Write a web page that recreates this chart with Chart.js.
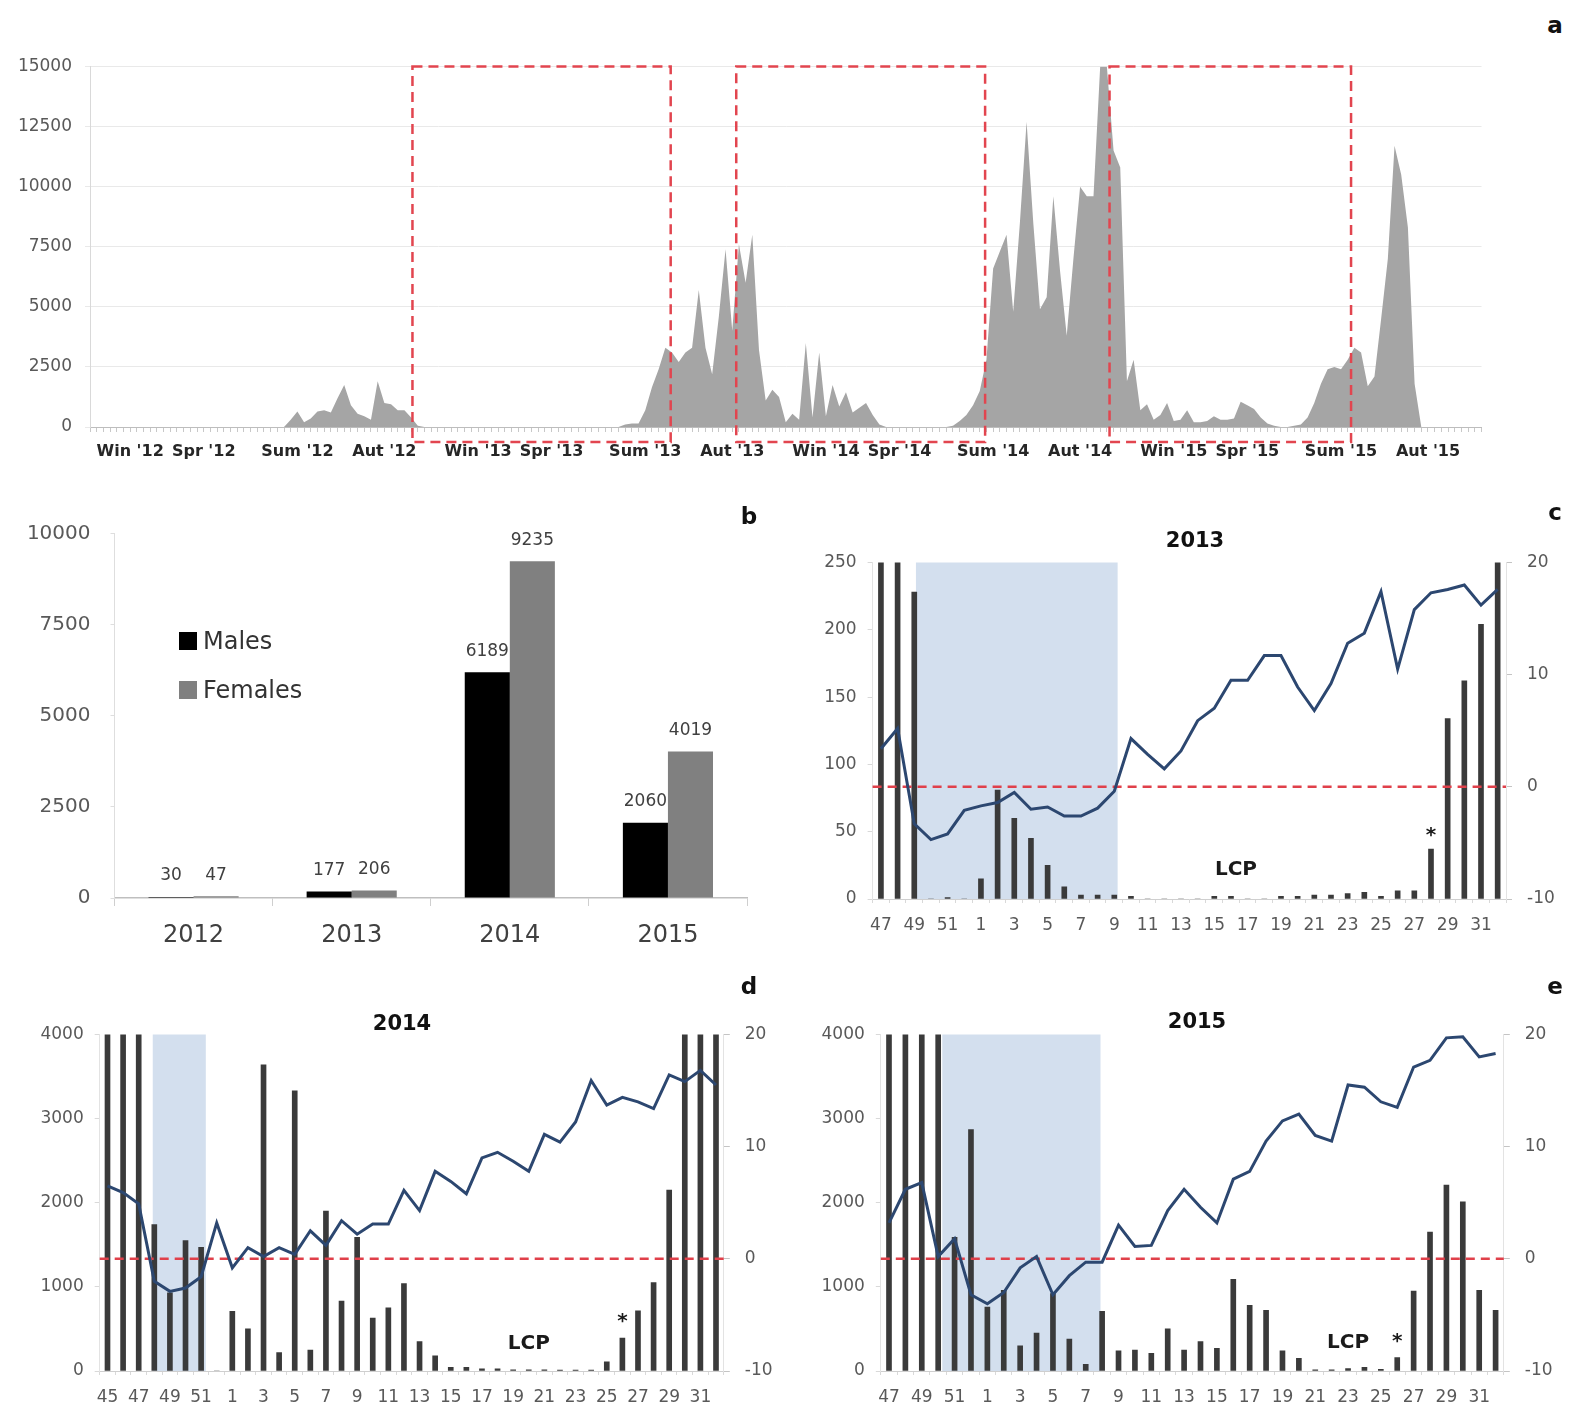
<!DOCTYPE html>
<html>
<head>
<meta charset="utf-8">
<script src="https://cdn.jsdelivr.net/npm/chart.js@4.4.1/dist/chart.umd.min.js"></script>
<style>
	body { margin: 0; background: #fff; }
	#page { position: relative; width: 1575px; height: 1421px; overflow: hidden; font-family: 'DejaVu Sans', sans-serif; }
	canvas { position: absolute; }
	.lbl { position: absolute; transform: translate(-50%, -50%); white-space: nowrap; color: #111; }
	.letter { font-weight: bold; font-size: 23px; }
	.title { font-weight: bold; font-size: 21px; }
	.legend { position: absolute; font-size: 24px; color: #333; transform: translateY(-50%); }
	.swatch { position: absolute; width: 18px; height: 18px; }
</style>
</head>
<body>
<div id="page">
	<canvas id="chartA" width="1510" height="440" style="left:0px; top:40px;"></canvas>
	<canvas id="chartB" width="780" height="480" style="left:0px; top:490px;"></canvas>
	<canvas id="chartC" width="795" height="470" style="left:780px; top:490px;"></canvas>
	<canvas id="chartD" width="780" height="451" style="left:0px; top:970px;"></canvas>
	<canvas id="chartE" width="795" height="451" style="left:780px; top:970px;"></canvas>

	<div class="lbl letter" style="left:1555px; top:25px;">a</div>
	<div class="lbl letter" style="left:749px; top:516px;">b</div>
	<div class="lbl letter" style="left:1555px; top:512px;">c</div>
	<div class="lbl letter" style="left:749px; top:986px;">d</div>
	<div class="lbl letter" style="left:1555px; top:986px;">e</div>

	<div class="lbl title" style="left:1195px; top:540px;">2013</div>
	<div class="lbl title" style="left:402px; top:1023px;">2014</div>
	<div class="lbl title" style="left:1197px; top:1021px;">2015</div>

	<div class="swatch" style="left:179px; top:632px; background:#000;"></div>
	<div class="legend" style="left:203px; top:641px;">Males</div>
	<div class="swatch" style="left:179px; top:681px; background:#808080;"></div>
	<div class="legend" style="left:203px; top:690px;">Females</div>
</div>
<script>
// ---- panel a : weekly catches, one value per week ----
var weeklyCatch = [
	0, 0, 0, 0, 0, 0, 0, 0, 0, 0,
	0, 0, 0, 0, 0, 0, 0, 0, 0, 0,
	0, 0, 0, 0, 0, 0, 0, 0, 0, 0,
	300, 650, 200, 350, 650, 700, 600, 1200, 1750, 900,
	550, 450, 300, 1900, 1000, 950, 700, 700, 400, 50,
	0, 0, 0, 0, 0, 0, 0, 0, 0, 0,
	0, 0, 0, 0, 0, 0, 0, 0, 0, 0,
	0, 0, 0, 0, 0, 0, 0, 0, 0, 0,
	100, 150, 150, 700, 1650, 2400, 3300, 3100, 2700, 3100,
	3300, 5700, 3300, 2200, 4600, 7400, 4000, 7600, 6000, 8000,
	3200, 1100, 1550, 1250, 200, 550, 300, 3500, 400, 3100,
	450, 1750, 850, 1450, 600, 800, 1000, 500, 100, 0,
	0, 0, 0, 0, 0, 0, 0, 0, 0, 50,
	250, 500, 900, 1500, 2800, 6600, 7300, 8000, 4800, 8500,
	12700, 8500, 4900, 5400, 9600, 6500, 3800, 7000, 10000, 9600,
	9600, 15000, 15000, 11500, 10800, 1900, 2800, 700, 950, 300,
	500, 1000, 250, 300, 700, 200, 200, 250, 450, 300,
	300, 350, 1050, 900, 750, 400, 150, 50, 0, 0,
	50, 100, 400, 1000, 1800, 2400, 2500, 2400, 2800, 3300,
	3100, 1700, 2100, 4500, 7000, 11700, 10500, 8300, 1800, 0,
	0, 0, 0, 0, 0, 0, 0, 0, 0
];
var seasonLabels = ["Win '12", "Spr '12", "Sum '12", "Aut '12",
	"Win '13", "Spr '13", "Sum '13", "Aut '13",
	"Win '14", "Spr '14", "Sum '14", "Aut '14",
	"Win '15", "Spr '15", "Sum '15", "Aut '15"];
var seasonWeeks = [6, 17, 31, 44, 58, 69, 83, 96, 110, 121, 135, 148, 162, 173, 187, 200];
// periods shown in c, d, e (week index from .. to)
var periodBoxes = [[48.2, 86.8], [96.6, 133.8], [152.4, 188.5]];

// ---- panel b : totals per year ----
var years = ['2012', '2013', '2014', '2015'];
var males = [30, 177, 6189, 2060];
var females = [47, 206, 9235, 4019];

// ---- panels c, d, e : weekly counts (bars) and temperature (line) ----
var weeksC = ['47', '48', '49', '50', '51', '52', '1', '2', '3', '4', '5', '6', '7', '8', '9', '10',
	'11', '12', '13', '14', '15', '16', '17', '18', '19', '20', '21', '22', '23', '24', '25', '26',
	'27', '28', '29', '30', '31', '32'];
var countsC = [400, 400, 228, 0, 1, 0, 15, 81, 60, 45, 25, 9, 3, 3, 3, 2,
	0, 0, 0, 0, 2, 2, 0, 0, 2, 2, 3, 3, 4, 5, 2, 6,
	6, 37, 134, 162, 204, 300];
var tempC = [3.4, 5.2, -3.3, -4.7, -4.2, -2.1, -1.7, -1.4, -0.5, -2.0, -1.8, -2.6, -2.6, -1.9, -0.4, 4.3,
	2.9, 1.6, 3.2, 5.9, 7.0, 9.5, 9.5, 11.7, 11.7, 8.9, 6.8, 9.2, 12.8, 13.7, 17.4, 10.5,
	15.8, 17.3, 17.6, 18.0, 16.2, 17.6];

var weeksD = ['45', '46', '47', '48', '49', '50', '51', '52', '1', '2', '3', '4', '5', '6', '7', '8', '9', '10',
	'11', '12', '13', '14', '15', '16', '17', '18', '19', '20', '21', '22', '23', '24', '25', '26',
	'27', '28', '29', '30', '31', '32'];
var countsD = [5000, 5000, 5000, 1740, 930, 1550, 1470, 0, 710, 500, 3640, 220, 3330, 250, 1900, 830, 1590, 630,
	750, 1040, 350, 180, 45, 45, 25, 25, 15, 15, 15, 12, 12, 12, 110, 390,
	715, 1050, 2150, 5000, 5000, 5000];
var tempD = [6.5, 5.9, 4.9, -2.0, -2.9, -2.6, -1.6, 3.2, -0.8, 1.0, 0.2, 1.0, 0.4, 2.5, 1.2, 3.4, 2.2, 3.1,
	3.1, 6.1, 4.3, 7.8, 6.9, 5.8, 9.0, 9.5, 8.7, 7.8, 11.1, 10.4, 12.2, 15.9, 13.7, 14.4,
	14.0, 13.4, 16.4, 15.8, 16.8, 15.5];

var weeksE = weeksC.slice();
var countsE = [5000, 5000, 5000, 5000, 1590, 2870, 760, 960, 300, 450, 920, 380, 80, 710, 240, 250,
	210, 500, 250, 350, 270, 1090, 780, 720, 240, 150, 15, 15, 30, 45, 20, 160,
	950, 1650, 2210, 2010, 960, 720];
var tempE = [3.2, 6.2, 6.8, 0.2, 1.8, -3.2, -4.0, -3.0, -0.8, 0.2, -3.2, -1.5, -0.3, -0.3, 3.0, 1.1,
	1.2, 4.3, 6.2, 4.6, 3.2, 7.1, 7.8, 10.5, 12.3, 12.9, 11.0, 10.5, 15.5, 15.3, 14.0, 13.5,
	17.1, 17.7, 19.7, 19.8, 18.0, 18.3];

Chart.defaults.font.family = "'DejaVu Sans', sans-serif";
Chart.defaults.color = '#595959';
Chart.defaults.animation = false;
Chart.defaults.plugins.legend.display = false;
Chart.defaults.plugins.tooltip.enabled = false;

var fixWidth = function(w) { return function(scale) { scale.width = w; }; };
var fixHeight = function(h) { return function(scale) { scale.height = h; }; };
var plainNumber = function(v) { return String(v); }; // no thousands separator

// red dashed rectangles over panel a
var boxPlugin = {
	id: 'periodBoxes',
	afterDatasetsDraw: function(chart) {
		var ctx = chart.ctx, x = chart.scales.x, y = chart.scales.y;
		var top = y.getPixelForValue(15000);
		var bottom = chart.chartArea.bottom + 15;
		ctx.save();
		ctx.strokeStyle = '#e2454f';
		ctx.lineWidth = 2.5;
		ctx.setLineDash([10, 6]);
		periodBoxes.forEach(function(b) {
			var x0 = x.getPixelForValue(b[0]);
			var x1 = x.getPixelForValue(b[1]);
			ctx.strokeRect(x0, top, x1 - x0, bottom - top);
		});
		ctx.restore();
	}
};

var weekLabels = weeklyCatch.map(function(v, i) {
	var k = seasonWeeks.indexOf(i);
	return k >= 0 ? seasonLabels[k] : '';
});

new Chart(document.getElementById('chartA'), {
	type: 'line',
	data: {
		labels: weekLabels,
		datasets: [{ data: weeklyCatch, fill: 'origin', backgroundColor: '#a5a5a5', borderWidth: 0, pointRadius: 0, tension: 0 }]
	},
	options: {
		responsive: false,
		layout: { padding: { top: 26.5, right: 28.5, left: 0, bottom: 0 } },
		scales: {
			x: {
				ticks: { autoSkip: false, maxRotation: 0, color: '#262626', font: { size: 16, weight: 'bold' }, padding: 10 },
				grid: { drawOnChartArea: false, tickLength: 5, color: '#c8c8c8' },
				border: { color: '#bdbdbd' },
				afterFit: fixHeight(53)
			},
			y: {
				min: 0, max: 15000,
				ticks: { stepSize: 2500, font: { size: 17 }, padding: 13, callback: plainNumber },
				grid: { color: '#e9e9e9', tickLength: 5 },
				border: { color: '#d9d9d9' },
				afterFit: fixWidth(90)
			}
		}
	},
	plugins: [boxPlugin]
});

// numbers above the bars of panel b
var barValuePlugin = {
	id: 'barValues',
	afterDatasetsDraw: function(chart) {
		var ctx = chart.ctx;
		ctx.save();
		ctx.font = "17px 'DejaVu Sans'";
		ctx.fillStyle = '#404040';
		ctx.textAlign = 'center';
		ctx.textBaseline = 'middle';
		chart.data.datasets.forEach(function(ds, i) {
			chart.getDatasetMeta(i).data.forEach(function(bar, j) {
				ctx.fillText(ds.data[j], bar.x, bar.y - 21);
			});
		});
		ctx.restore();
	}
};

new Chart(document.getElementById('chartB'), {
	type: 'bar',
	data: {
		labels: years,
		datasets: [
			{ label: 'Males', data: males, backgroundColor: '#000000', categoryPercentage: 0.57, barPercentage: 1 },
			{ label: 'Females', data: females, backgroundColor: '#808080', categoryPercentage: 0.57, barPercentage: 1 }
		]
	},
	options: {
		responsive: false,
		layout: { padding: { top: 43.3, right: 33, left: 0, bottom: 0 } },
		scales: {
			x: {
				ticks: { color: '#404040', font: { size: 24 }, padding: 15 },
				grid: { drawOnChartArea: false, tickLength: 8, color: '#cfcfcf' },
				border: { color: '#bfbfbf', width: 1.5 },
				afterFit: fixHeight(72)
			},
			y: {
				min: 0, max: 10000,
				ticks: { stepSize: 2500, font: { size: 20 }, padding: 20, callback: plainNumber },
				grid: { drawOnChartArea: false, tickLength: 4, color: '#dedede' },
				border: { color: '#dedede' },
				afterFit: fixWidth(114.5)
			}
		}
	},
	plugins: [barValuePlugin]
});

// shaded weeks, zero line of the temperature axis, text notes
var weekPanelPlugin = {
	id: 'weekPanel',
	beforeDatasetsDraw: function(chart, args, opts) {
		var ctx = chart.ctx, x = chart.scales.x, a = chart.chartArea;
		var x0 = x.getPixelForValue(opts.shade[0]);
		var x1 = x.getPixelForValue(opts.shade[1]);
		ctx.save();
		ctx.fillStyle = '#d3dfee';
		ctx.fillRect(x0, a.top, x1 - x0, a.bottom - a.top);
		ctx.restore();
	},
	afterDatasetDraw: function(chart, args) {
		if (args.index !== 1) return; // only after the bars, below the line
		var ctx = chart.ctx, a = chart.chartArea;
		var y0 = chart.scales.y2.getPixelForValue(0);
		ctx.save();
		ctx.strokeStyle = '#e0404a';
		ctx.lineWidth = 2.5;
		ctx.setLineDash([9, 6]);
		ctx.beginPath();
		ctx.moveTo(a.left, y0);
		ctx.lineTo(a.right, y0);
		ctx.stroke();
		ctx.restore();
	},
	afterDatasetsDraw: function(chart, args, opts) {
		var ctx = chart.ctx, x = chart.scales.x, y = chart.scales.y;
		ctx.save();
		ctx.font = "bold 20px 'DejaVu Sans'";
		ctx.fillStyle = '#1a1a1a';
		ctx.textAlign = 'center';
		ctx.textBaseline = 'middle';
		opts.notes.forEach(function(n) {
			ctx.fillText(n.text, x.getPixelForValue(n.at), y.getPixelForValue(n.value));
		});
		ctx.restore();
	}
};

var drawWeekPanel = function(canvasId, weeks, counts, temps, setup) {
	new Chart(document.getElementById(canvasId), {
		type: 'bar',
		data: {
			labels: weeks,
			datasets: [
				{ type: 'line', data: temps, yAxisID: 'y2', borderColor: '#2c4770', borderWidth: 3, pointRadius: 0, tension: 0, order: 0 },
				{ type: 'bar', data: counts, yAxisID: 'y', backgroundColor: '#3a3a3a', barThickness: 5, order: 1 }
			]
		},
		options: {
			responsive: false,
			layout: { padding: { top: setup.top, right: 0, left: 0, bottom: 0 } },
			plugins: { weekPanel: { shade: setup.shade, notes: setup.notes } },
			scales: {
				x: {
					ticks: {
						autoSkip: false, maxRotation: 0, font: { size: 17 }, padding: 12,
						callback: function(v, i) { return i % 2 === 0 ? this.getLabelForValue(v) : ''; }
					},
					grid: { drawOnChartArea: false, tickLength: 4, color: '#d9d9d9' },
					border: { color: '#cfcfcf' },
					afterFit: fixHeight(setup.bottomH)
				},
				y: {
					position: 'left', min: 0, max: setup.yMax,
					ticks: { stepSize: setup.yStep, font: { size: 17 }, padding: 11, callback: plainNumber },
					grid: { drawOnChartArea: false, tickLength: 5, color: '#d9d9d9' },
					border: { color: '#e3e3e3' },
					afterFit: fixWidth(setup.leftW)
				},
				y2: {
					position: 'right', min: -10, max: 20,
					ticks: { stepSize: 10, font: { size: 17 }, padding: 15, callback: plainNumber },
					grid: { drawOnChartArea: false, tickLength: 6, color: '#c4c4c4' },
					border: { color: '#e3e3e3' },
					afterFit: fixWidth(setup.rightW)
				}
			}
		},
		plugins: [weekPanelPlugin]
	});
};

drawWeekPanel('chartC', weeksC, countsC, tempC, {
	top: 72.5, bottomH: 61, leftW: 92.6, rightW: 69, yMax: 250, yStep: 50,
	shade: [2.1, 14.2],
	notes: [{ text: 'LCP', at: 21.3, value: 21.5 }, { text: '*', at: 33, value: 47 }]
});
drawWeekPanel('chartD', weeksD, countsD, tempD, {
	top: 64.5, bottomH: 50, leftW: 99.7, rightW: 56.2, yMax: 4000, yStep: 1000,
	shade: [2.9, 6.3],
	notes: [{ text: 'LCP', at: 27, value: 321 }, { text: '*', at: 33, value: 580 }]
});
drawWeekPanel('chartE', weeksE, countsE, tempE, {
	top: 64.5, bottomH: 50, leftW: 100.8, rightW: 71.2, yMax: 4000, yStep: 1000,
	shade: [3.25, 12.9],
	notes: [{ text: 'LCP', at: 28, value: 333 }, { text: '*', at: 31, value: 345 }]
});
</script>
</body>
</html>
